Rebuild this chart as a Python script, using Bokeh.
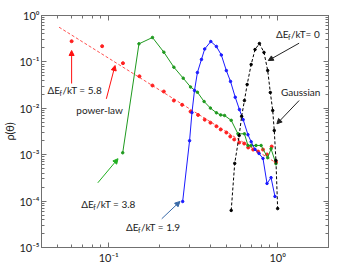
import math
from bokeh.plotting import figure
from bokeh.models import LogAxis, FixedTicker, Label, Arrow, NormalHead
from bokeh.core.properties import value
from bokeh.embed import file_html
from bokeh.resources import INLINE

# ---------------- data ----------------
# Delta E_f / kT = 5.8 (red points)
red_x = [0.0603, 0.0914, 0.1214, 0.152, 0.1815, 0.212, 0.243, 0.272, 0.305, 0.338,
         0.370, 0.400, 0.434, 0.460, 0.497, 0.524, 0.553, 0.592, 0.634, 0.669,
         0.716, 0.766, 0.819, 0.865, 0.922, 0.977]
red_y = [0.279, 0.218, 0.0938, 0.0490, 0.0310, 0.0230, 0.0147, 0.0119, 8.5e-3, 7.2e-3,
         5.7e-3, 4.9e-3, 4.1e-3, 3.5e-3, 3.0e-3, 2.47e-3, 2.13e-3, 1.83e-3, 1.74e-3, 1.43e-3,
         1.29e-3, 1.17e-3, 1.29e-3, 1.01e-3, 1.50e-3, 6.9e-4]

# power-law fit (end points)
fit_x = [0.0508, 0.977]
fit_y = [0.56, 6.7e-4]

# Delta E_f / kT = 3.8 (green)
green_x = [0.121, 0.151, 0.1815, 0.212, 0.243, 0.276, 0.305, 0.335, 0.367, 0.400,
           0.434, 0.460, 0.485, 0.531, 0.582, 0.636, 0.667, 0.697, 0.745, 0.798,
           0.873, 0.914, 0.977]
green_y = [1.10e-3, 0.245, 0.336, 0.162, 0.0769, 0.0446, 0.0288, 0.0222, 0.0140, 0.0101,
           8.0e-3, 7.2e-3, 7.0e-3, 5.5e-3, 2.82e-3, 2.82e-3, 1.58e-3, 1.58e-3, 1.58e-3, 1.58e-3,
           8.6e-4, 1.34e-3, 6.4e-4]

# Delta E_f / kT = 1.9 (blue)
blue_x = [0.274, 0.301, 0.311, 0.322, 0.335, 0.354, 0.370, 0.402, 0.434, 0.464,
          0.497, 0.526, 0.561, 0.594, 0.625, 0.667, 0.697, 0.735, 0.776, 0.819,
          0.865, 0.914, 0.964]
blue_y = [9.8e-5, 2.0e-3, 8.1e-3, 0.0242, 0.059, 0.113, 0.19, 0.275, 0.215, 0.141,
          0.065, 0.038, 0.0173, 9.4e-3, 5.7e-3, 2.7e-3, 1.9e-3, 1.3e-3, 1.06e-3, 8.3e-4,
          2.4e-4, 3.2e-4, 1.26e-4]

# Delta E_f / kT = 0 (black, Gaussian)
black_x = [0.531, 0.557, 0.592, 0.612, 0.636, 0.660, 0.697, 0.735, 0.780, 0.830,
           0.873, 0.905, 0.935, 0.955, 0.977, 1.0]
black_y = [6.3e-5, 6.5e-4, 2.59e-3, 6.7e-3, 0.0147, 0.0326, 0.0879, 0.185, 0.249, 0.160,
           0.0653, 0.0219, 8.97e-3, 3.32e-3, 7.5e-4, 6.9e-5]

x_major = [0.1, 1.0]
x_minor = [0.05, 0.06, 0.07, 0.08, 0.09, 0.2, 0.3, 0.4, 0.5, 0.6, 0.7, 0.8, 0.9, 2.0]
y_major = [1e-5, 1e-4, 1e-3, 1e-2, 1e-1, 1.0]
y_minor = [m * d for d in [1e-5, 1e-4, 1e-3, 1e-2, 1e-1] for m in range(2, 10)]
x_labels = {0.1: "10\u207b\u00b9", 1.0: "10\u2070"}
y_labels = {1.0: "10\u2070", 0.1: "10\u207b\u00b9", 0.01: "10\u207b\u00b2",
            0.001: "10\u207b\u00b3", 0.0001: "10\u207b\u2074", 1e-05: "10\u207b\u2075"}

FONT = "Lato"
AX = "#707070"

p = figure(x_axis_type="log", y_axis_type="log", x_range=(0.04, 2.0), y_range=(1e-5, 1.0),
           width=351, height=279,
           min_border_left=40, min_border_right=23, min_border_top=15, min_border_bottom=32,
           output_backend="svg", toolbar_location=None)
p.grid.visible = False
p.outline_line_color = AX
p.background_fill_color = "white"


def style_axis(ax, show_labels):
    ax.axis_line_color = AX
    ax.major_tick_line_color = AX
    ax.minor_tick_line_color = AX
    ax.major_tick_in = 5
    ax.major_tick_out = 0
    ax.minor_tick_in = 3
    ax.minor_tick_out = 0
    ax.major_label_text_font = FONT
    ax.major_label_text_color = "#222222"
    if show_labels:
        ax.major_label_text_font_size = "11px"
        ax.major_label_standoff = 2
    else:
        ax.major_label_text_font_size = "1px"
        ax.major_label_text_alpha = 0
        ax.major_label_standoff = 0


p.xaxis.ticker = FixedTicker(ticks=x_major, minor_ticks=x_minor)
p.xaxis.major_label_overrides = x_labels
p.yaxis.ticker = FixedTicker(ticks=y_major, minor_ticks=y_minor)
p.yaxis.major_label_overrides = y_labels
style_axis(p.xaxis[0], True)
style_axis(p.yaxis[0], True)
p.xaxis[0].major_label_standoff = 3

yax = p.yaxis[0]
yax.axis_label = "\u03c1(\u03b8)"
yax.axis_label_text_font = FONT
yax.axis_label_text_font_size = "11px"
yax.axis_label_text_font_style = "normal"
yax.axis_label_text_color = "#222222"
yax.axis_label_standoff = 0

top = LogAxis(ticker=FixedTicker(ticks=x_major, minor_ticks=x_minor))
style_axis(top, False)
p.add_layout(top, "above")
right = LogAxis(ticker=FixedTicker(ticks=y_major, minor_ticks=y_minor))
style_axis(right, False)
p.add_layout(right, "right")

# series
RED = "#ff2020"
GREEN = "#1f9a1f"
BLUE = "#1a1aff"
p.line(fit_x, fit_y, line_color="#ff5050", line_width=1, line_dash="3 2")
p.scatter(red_x, red_y, size=3, color=RED)

p.line(green_x, green_y, line_color=GREEN, line_width=1)
p.scatter(green_x, green_y, size=2.5, color=GREEN)

p.line(blue_x, blue_y, line_color=BLUE, line_width=1)
p.scatter(blue_x, blue_y, size=2.5, color=BLUE)

p.line(black_x, black_y, line_color="black", line_width=1, line_dash="3 2")
p.scatter(black_x, black_y, size=2.5, color="black")

# annotations
arrows = [
    ((0.0603, 0.0342), (0.0603, 0.176), "#ff1010"),
    ((0.0968, 0.016), (0.109, 0.0836), "#ff1010"),
    ((0.0862, 2.48e-4), (0.1135, 8.2e-4), "#20b020"),
    ((0.206, 4.16e-5), (0.264, 9.8e-5), "#3a6aa8"),
    ((1.34, 0.253), (0.88, 0.107), "#222222"),
    ((1.34, 0.0147), (0.99, 4.63e-3), "#222222"),
]
for (xs, ys), (xe, ye), c in arrows:
    p.add_layout(Arrow(x_start=xs, y_start=ys, x_end=xe, y_end=ye, line_color=c, line_width=1,
                       end=NormalHead(size=5, fill_color=c, line_color=c)))


def de_label(x, y, tail):
    kw = dict(text_font=value(FONT), text_color="#222222", text_baseline="middle", text_align="left")
    p.text([x], [y], text=["\u0394E"], text_font_size="10px", **kw)
    p.text([x], [y], text=["f"], text_font_size="7px", x_offset=12, y_offset=3, **kw)
    p.text([x], [y], text=[tail], text_font_size="10px", x_offset=15, **kw)


de_label(0.0434, 0.0248, "/kT = 5.8")
de_label(0.0687, 8.45e-5, "/kT = 3.8")
de_label(0.1264, 2.74e-5, "/kT = 1.9")
de_label(0.977, 0.403, "/kT= 0")
p.text([0.0643], [8.97e-3], text=["power-law"], text_font=value(FONT), text_font_size="10px",
       text_baseline="middle", text_align="left", text_color="#222222")
p.text([1.046], [0.0222], text=["Gaussian"], text_font=value(FONT), text_font_size="10px",
       text_baseline="middle", text_align="left", text_color="#222222")

p.add_layout(Label(x=157, y=-25, x_units="screen", y_units="screen", text="tan(\u03b8)/tan(\u03b8\u2080)",
                   text_font=FONT, text_font_size="12px", text_align="center", text_baseline="middle",
                   text_color="#222222"))

open("out.html", "w").write(file_html(p, INLINE))
